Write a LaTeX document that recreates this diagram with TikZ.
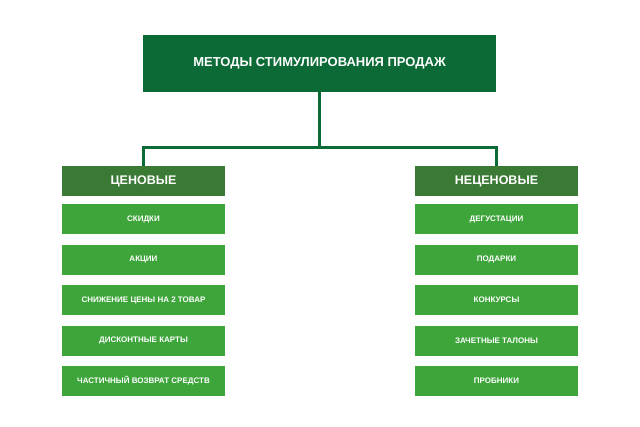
\documentclass[tikz,border=0pt]{standalone}
\usepackage{fontspec}
\setmainfont{Liberation Sans}
\usetikzlibrary{positioning}
\definecolor{topgreen}{HTML}{0B6A35}
\definecolor{headgreen}{HTML}{3B7A34}
\definecolor{itemgreen}{HTML}{3DA53A}
\begin{document}
\begin{tikzpicture}[x=1pt,y=-1pt,node distance=10pt,
  top/.style = {fill=topgreen, text=white, font=\bfseries\fontsize{13}{15}\selectfont, minimum width=353pt, minimum height=57pt, inner sep=0pt},
  head/.style = {fill=headgreen, text=white, font=\bfseries\fontsize{12.5}{14}\selectfont, minimum width=163pt, minimum height=30pt, inner sep=0pt},
  item/.style = {fill=itemgreen, text=white, font=\bfseries\fontsize{8}{10}\selectfont, minimum width=163pt, minimum height=30pt, inner sep=0pt},
  link/.style = {draw=topgreen, line width=3pt}]
    \useasboundingbox (0,0) rectangle (640,427);
    \node[top] (main) at (319.5,63.5) {МЕТОДЫ СТИМУЛИРОВАНИЯ ПРОДАЖ};

    \node[head] (l0) at (143.5,181) {ЦЕНОВЫЕ};
    \node[item] (l1) [below=8pt of l0] {СКИДКИ};
    \node[item] (l2) [below=10pt of l1] {АКЦИИ};
    \node[item] (l3) [below=10pt of l2] {СНИЖЕНИЕ ЦЕНЫ НА 2 ТОВАР};
    \node[item] (l4) [below=10pt of l3] {ДИСКОНТНЫЕ КАРТЫ};
    \node[item] (l5) [below=10pt of l4] {ЧАСТИЧНЫЙ ВОЗВРАТ СРЕДСТВ};

    \node[head] (r0) at (496.5,181) {НЕЦЕНОВЫЕ};
    \node[item] (r1) [below=8pt of r0] {ДЕГУСТАЦИИ};
    \node[item] (r2) [below=10pt of r1] {ПОДАРКИ};
    \node[item] (r3) [below=10pt of r2] {КОНКУРСЫ};
    \node[item] (r4) [below=10pt of r3] {ЗАЧЕТНЫЕ ТАЛОНЫ};
    \node[item] (r5) [below=10pt of r4] {ПРОБНИКИ};

    \coordinate (fork) at (319.5,148);
    \draw[link] (main.south) -- (fork);
    \draw[link] (l0.north) |- (fork) -| (r0.north);
\end{tikzpicture}
\end{document}
